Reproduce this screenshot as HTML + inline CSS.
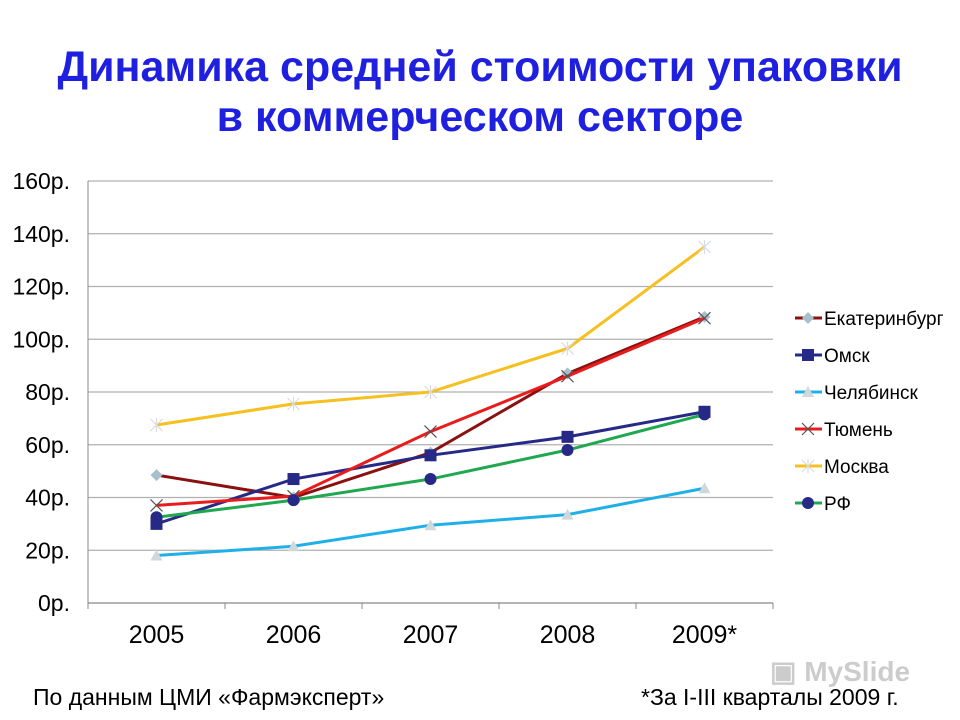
<!DOCTYPE html>
<html><head><meta charset="utf-8"><style>
body{margin:0;width:960px;height:720px;background:#fff;font-family:"Liberation Sans",sans-serif;overflow:hidden;position:relative}
.t{position:absolute;left:0;width:960px;text-align:center;color:#1f1fe0;font-weight:bold;font-size:43px;line-height:50px}
.f{position:absolute;top:684px;font-size:23px;color:#000}
</style></head><body>
<div class="t" style="top:42px">Динамика средней стоимости упаковки</div>
<div class="t" style="top:92px">в коммерческом секторе</div>
<svg id="c" width="960" height="720" style="position:absolute;left:0;top:0"></svg>
<div class="f" style="left:33px">По данным ЦМИ «Фармэксперт»</div>
<div class="f" style="left:641px">*За I-III кварталы 2009 г.</div>
<div style="position:absolute;left:770px;top:655px;font-size:28px;font-weight:bold;color:#ccc">▣ MySlide</div>
<script>
const categories=["2005","2006","2007","2008","2009*"];
const yTicks=[0,20,40,60,80,100,120,140,160];
const seriesNames=["Екатеринбург","Омск","Челябинск","Тюмень","Москва","РФ"];
const ekb=[48.5,40,57,87,108.5];
const omsk=[30,47,56,63,72.5];
const chel=[18,21.5,29.5,33.5,43.5];
const tyum=[37,40.5,65,86,108];
const msk=[67.5,75.5,80,96.5,135];
const rf=[32.5,39,47,58,71.5];
const NS="http://www.w3.org/2000/svg",svg=document.getElementById('c');
const X0=88,X1=773,Y0=603,Y1=181;
const xs=i=>X0+(X1-X0)/categories.length*(i+0.5);
const ys=v=>Y0-(Y0-Y1)*v/160;
function mk(t,a,p){const e=document.createElementNS(NS,t);for(const k in a)e.setAttribute(k,a[k]);(p||svg).appendChild(e);return e;}
yTicks.forEach(v=>{
 const l=mk('line',{x1:X0,x2:X1,y1:ys(v),y2:ys(v),stroke:v==0?'#888':'#b0b0b0','stroke-width':1.3});
 
 
 const t=mk('text',{x:70,y:ys(v)+8,'text-anchor':'end','font-size':23,'font-family':'Liberation Sans'});
 t.textContent=v+'р.';
 
 
});
mk('line',{x1:X0,x2:X0,y1:Y1,y2:Y0,stroke:'#888'});
categories.forEach((c,i)=>{
 const tk=mk('line',{x1:X0+137*i,x2:X0+137*i,y1:Y0,y2:Y0+6,stroke:'#888'});
 
 
 const t=mk('text',{x:xs(i),y:643,'text-anchor':'middle','font-size':25,'font-family':'Liberation Sans'});
 t.textContent=c;
 
 
});
mk('line',{x1:X1,x2:X1,y1:Y0,y2:Y0+6,stroke:'#888'});
function marker(type,x,y,g){
 if(type=='diamond')mk('path',{d:`M${x} ${y-6}L${x+6} ${y}L${x} ${y+6}L${x-6} ${y}Z`,fill:'#a8c0cc'},g);
 else if(type=='square')mk('rect',{x:x-6,y:y-6,width:12,height:12,fill:'#262a86'},g);
 else if(type=='tri')mk('path',{d:`M${x} ${y-6}L${x+6} ${y+5}L${x-6} ${y+5}Z`,fill:'#d0d8dc'},g);
 else if(type=='x')mk('path',{d:`M${x-6} ${y-6}L${x+6} ${y+6}M${x+6} ${y-6}L${x-6} ${y+6}`,stroke:'#555','stroke-width':1.2},g);
 else if(type=='star')mk('path',{d:`M${x-6} ${y-6}L${x+6} ${y+6}M${x+6} ${y-6}L${x-6} ${y+6}M${x} ${y-7}L${x} ${y+7}`,stroke:'#d8dce0','stroke-width':1.2},g);
 else if(type=='circle')mk('circle',{cx:x,cy:y,r:6,fill:'#262a86'},g);
}
const all=[[ekb,'#8b1010','diamond'],[omsk,'#262a86','square'],[chel,'#20b0e8','tri'],[tyum,'#e81c1c','x'],[msk,'#f5c020','star'],[rf,'#20a850','circle']];
all.forEach((s,si)=>{
 const g=mk('g',{});
 
 
 mk('polyline',{points:s[0].map((v,i)=>xs(i)+','+ys(v)).join(' '),fill:'none',stroke:s[1],'stroke-width':3},g);
 s[0].forEach((v,i)=>marker(s[2],xs(i),ys(v),g));
 const ly=318+37*si;
 const lg=mk('g',{});
 
 
 mk('line',{x1:795,x2:822,y1:ly,y2:ly,stroke:s[1],'stroke-width':3},lg);
 marker(s[2],808,ly,lg);
 const t=mk('text',{x:824,y:ly+7,'font-size':19,'font-family':'Liberation Sans'},lg);
 t.textContent=seriesNames[si];
});
</script>
</body></html>
